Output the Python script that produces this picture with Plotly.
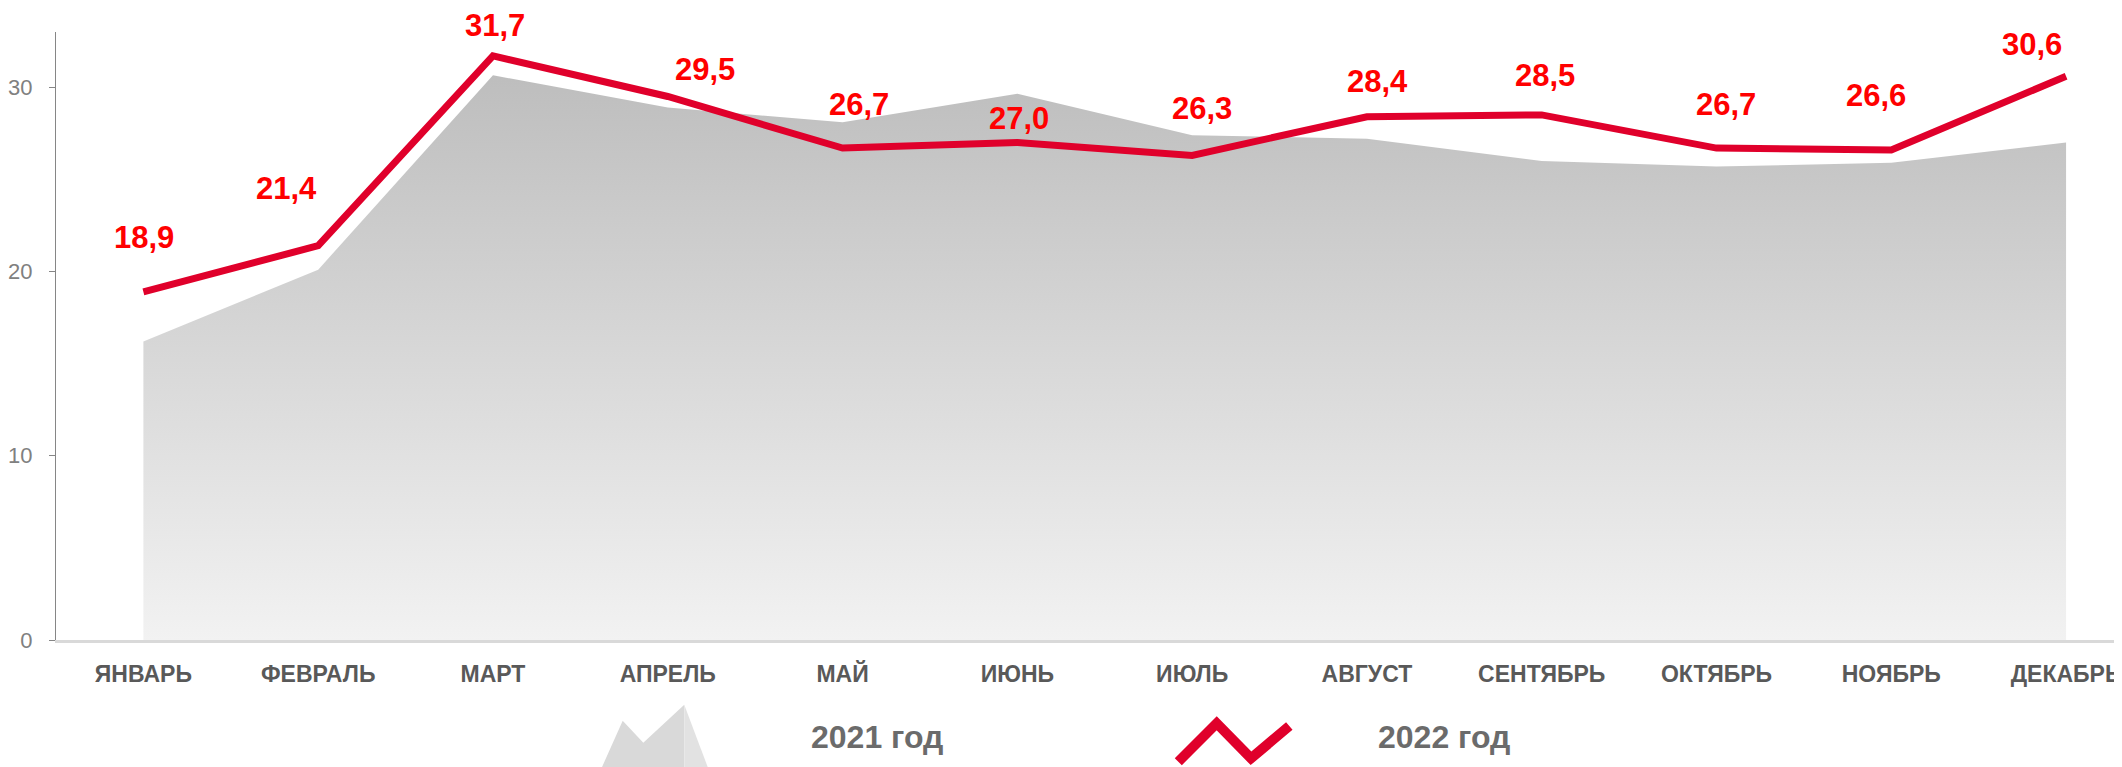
import plotly.graph_objects as go

# ---- data ----
months = ["ЯНВАРЬ", "ФЕВРАЛЬ", "МАРТ", "АПРЕЛЬ", "МАЙ", "ИЮНЬ", "ИЮЛЬ",
          "АВГУСТ", "СЕНТЯБРЬ", "ОКТЯБРЬ", "НОЯБРЬ", "ДЕКАБРЬ"]
values_2021 = [16.2, 20.1, 30.65, 28.9, 28.1, 29.65, 27.4, 27.2, 26.0, 25.7, 25.9, 27.0]
values_2022 = [18.9, 21.4, 31.7, 29.5, 26.7, 27.0, 26.3, 28.4, 28.5, 26.7, 26.6, 30.6]
series_names = ["2021 год", "2022 год"]
y_ticks = [0, 10, 20, 30]

# ---- layout geometry ----
# the page body has an 8px default margin, so the figure is offset by 8px
OFF = 8
PAGE_W, PAGE_H = 2122, 767
W, H = PAGE_W - OFF, PAGE_H - OFF
# plot area in page pixels
PX0, PX1, PY0, PY1 = 56, 2122, 32, 640
L, R, T, B = PX0 - OFF, 0, PY0 - OFF, H - (PY1 - OFF)

# per-label offsets (px) for the 2022 data labels
label_shift = [(1, 54), (-32, 57), (2, 30), (37, 27), (16, 44), (2, 24),
               (10, 47), (11, 35), (3, 39), (10, 44), (-15, 54), (-34, 32)]


def px(x):
    return (x - PX0) / (PX1 - PX0)


def py(y):
    return (PY1 - y) / (PY1 - PY0)


def path(points, close=True):
    s = "M " + " L ".join(f"{px(x):.5f},{py(y):.5f}" for x, y in points)
    return s + (" Z" if close else "")


fig = go.Figure()

fig.add_trace(go.Scatter(
    x=months, y=values_2021, name=series_names[0], mode="lines",
    line=dict(width=0, color="rgba(0,0,0,0)"),
    fill="tozeroy",
    fillgradient=dict(type="vertical",
                      colorscale=[[0, "#f2f2f2"], [1, "#bdbdbd"]],
                      start=0, stop=31),
    hoverinfo="skip", showlegend=False,
))

fig.add_trace(go.Scatter(
    x=months, y=values_2022, name=series_names[1], mode="lines",
    line=dict(width=7, color="#e0002b"),
    hoverinfo="skip", showlegend=False,
))

annotations = []
for i, (m, v) in enumerate(zip(months, values_2022)):
    dx, dy = label_shift[i]
    annotations.append(dict(
        x=m, y=v, xref="x", yref="y", text=f"{v:.1f}".replace(".", ","),
        showarrow=False, xanchor="center", yanchor="middle",
        xshift=dx, yshift=dy,
        font=dict(family="Liberation Sans, Arial", size=31, color="#ff0000", weight="bold"),
    ))

# legend texts
annotations.append(dict(
    x=px(809), y=py(737), xref="paper", yref="paper", text=series_names[0],
    showarrow=False, xanchor="left", yanchor="middle",
    font=dict(family="Liberation Sans, Arial", size=32, color="#6b6b6b", weight="bold"),
))
annotations.append(dict(
    x=px(1376), y=py(737), xref="paper", yref="paper", text=series_names[1],
    showarrow=False, xanchor="left", yanchor="middle",
    font=dict(family="Liberation Sans, Arial", size=32, color="#6b6b6b", weight="bold"),
))

shapes = [
    # 2021 legend icon (mountain)
    dict(type="path", xref="paper", yref="paper",
         path=path([(600.7, 770), (622.7, 720.7), (643.3, 742.7), (684.3, 704.7), (684.3, 770)]),
         fillcolor="#d9d9d9", line=dict(width=0), layer="above"),
    dict(type="path", xref="paper", yref="paper",
         path=path([(684.3, 704.7), (708.8, 770), (684.3, 770)]),
         fillcolor="#e2e2e2", line=dict(width=0), layer="above"),
    # 2022 legend icon (zigzag)
    dict(type="path", xref="paper", yref="paper",
         path=path([(1178.3, 761.7), (1216.7, 723.3), (1251, 758.3), (1289.3, 726)], close=False),
         line=dict(width=10, color="#e0002b"), layer="above"),
]

fig.update_layout(
    width=W, height=H,
    margin=dict(l=L, r=R, t=T, b=B, pad=0, autoexpand=False),
    paper_bgcolor="white", plot_bgcolor="white",
    showlegend=False,
    annotations=annotations,
    shapes=shapes,
    xaxis=dict(
        type="category", categoryorder="array", categoryarray=months,
        range=[-0.5, 11.32], automargin=False,
        showline=True, linecolor="#d9d9d9", linewidth=2.5,
        showgrid=False, zeroline=False, ticks="",
        tickfont=dict(family="Liberation Sans, Arial", size=23, color="#595959", weight="bold"),
        ticklabelstandoff=12,
        ticklabeloverflow="allow",
        fixedrange=True,
    ),
    yaxis=dict(
        range=[0, 33], tickvals=y_ticks, automargin=False,
        showline=True, linecolor="#868686", linewidth=1,
        ticks="outside", ticklen=6, tickcolor="#868686", tickwidth=1,
        showgrid=False, zeroline=False,
        tickfont=dict(family="Liberation Sans, Arial", size=22, color="#808080"),
        ticklabelstandoff=12,
        ticklabeloverflow="allow",
        fixedrange=True,
    ),
)

fig.write_html("out.html")
